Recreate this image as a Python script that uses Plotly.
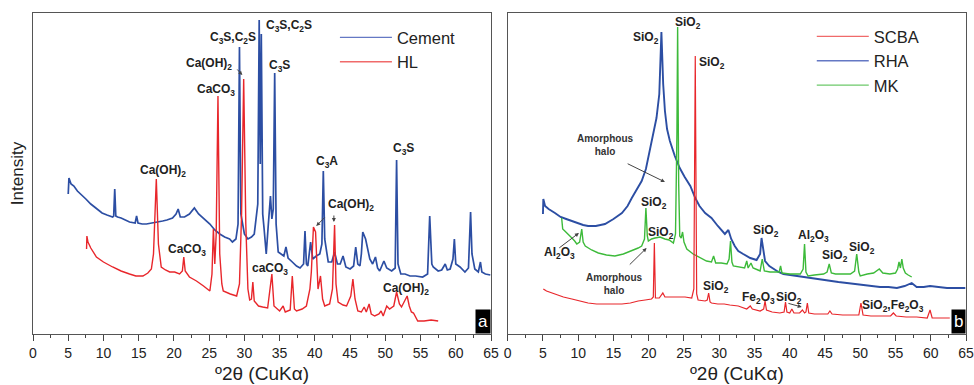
import plotly.graph_objects as go

# ---------------- Panel a data (2theta, intensity a.u.) ----------------
cement_x = [5.0, 5.1, 5.4, 5.8, 6.3, 6.8, 7.5, 8.2, 9.0, 9.8, 10.5, 11.3, 11.45, 11.6, 11.75, 12.0, 12.5, 13.0, 13.7,
            14.5, 14.7, 14.9, 15.5, 16.1, 17.0, 17.5, 18.4, 19.0, 19.8, 20.3, 20.6, 20.9, 21.5, 22.2, 22.9, 23.5, 24.2,
            25.1, 25.8, 26.5, 27.2, 27.9, 28.3, 28.8, 29.1, 29.3, 29.5, 29.7, 30.0, 30.5, 31.0, 31.4, 31.7, 31.9, 32.1,
            32.25, 32.4, 32.6, 32.8, 33.1, 33.4, 33.7, 33.9, 34.1, 34.3, 34.5, 34.8, 35.2, 35.6, 35.9, 36.2, 36.8,
            37.4, 37.9, 38.4, 38.6, 38.8, 39.0, 39.4, 39.7, 40.2, 40.7, 41.0, 41.2, 41.4, 41.9, 42.4, 42.8, 43.2,
            43.6, 44.0, 44.4, 45.0, 45.5, 45.8, 46.1, 46.4, 46.6, 46.8, 47.2, 47.5, 47.8, 48.2, 48.6, 48.9, 49.2,
            49.8, 50.2, 50.9, 51.4, 51.6, 51.8, 52.2, 52.8, 53.5, 54.3, 55.3, 56.0, 56.3, 56.6, 56.8, 57.5, 58.0,
            58.5, 58.8, 59.2, 59.6, 59.8, 60.0, 60.6, 61.3, 61.8, 62.1, 62.3, 62.7, 63.2, 63.5, 63.7, 64.2, 64.9]
cement_y = [140, 156, 150, 148, 143, 140, 135, 130, 125, 121, 119, 117, 118, 145, 118, 117, 116, 114, 112,
            111, 118, 111, 110, 110, 111, 112, 113, 114, 116, 120, 125, 117, 117, 120, 126, 120, 116,
            110, 104, 100, 97, 95, 92, 95, 110, 287, 120, 110, 100, 95, 97, 100, 115, 130, 314,
            170, 300, 120, 105, 80, 110, 138, 115, 125, 261, 110, 82, 80, 78, 87, 76, 72,
            68, 66, 70, 103, 70, 68, 92, 75, 78, 80, 90, 163, 95, 72, 72, 82, 70,
            70, 78, 67, 65, 68, 87, 70, 68, 80, 102, 95, 85, 75, 70, 77, 66, 63,
            73, 66, 63, 66, 174, 70, 60, 60, 58, 58, 57, 60, 118, 70, 67, 63, 64,
            70, 64, 65, 75, 95, 70, 67, 62, 66, 122, 80, 65, 62, 72, 62, 60, 59]

hl_x = [7.6, 7.65, 7.8, 8.2, 9.0, 10.0, 11.3, 12.5, 13.7, 14.6, 15.6, 16.3, 16.8, 17.1, 17.5, 17.8, 18.2, 18.8,
        19.4, 20.1, 20.8, 21.2, 21.4, 21.6, 22.2, 23.2, 24.2, 25.1, 25.4, 25.6, 25.8, 26.0, 26.25, 26.5, 26.8,
        27.0, 28.0, 28.9, 29.3, 29.6, 29.9, 30.2, 30.5, 30.75, 31.0, 31.2, 31.4, 32.0, 32.6, 33.3, 33.9, 34.2,
        35.0, 35.5, 35.8, 36.5, 36.8, 37.1, 37.4, 38.2, 38.8, 39.3, 39.5, 39.8, 40.1, 40.3, 40.45, 40.8, 41.1,
        41.4, 42.1, 42.5, 42.8, 43.0, 43.3, 44.0, 44.5, 45.1, 45.4, 45.7, 46.1, 46.6, 47.0, 47.3, 47.7, 48.0,
        48.5, 49.1, 49.4, 49.7, 50.2, 50.6, 51.2, 51.6, 52.0, 52.3, 52.8, 53.1, 53.4, 53.7, 54.0, 54.3, 54.6,
        55.5, 56.5, 57.5]
hl_y = [85, 98, 92, 86, 77, 72, 67, 63, 60, 58, 58, 61, 65, 80, 155, 90, 67, 64,
        62, 62, 60, 63, 77, 63, 57, 53, 48, 43, 60, 105, 70, 100, 238, 80, 50,
        43, 40, 38, 50, 120, 255, 110, 45, 34, 35, 52, 33, 28, 27, 26, 60, 28,
        23, 28, 22, 24, 58, 25, 23, 25, 28, 45, 62, 107, 102, 60, 45, 58, 35,
        28, 30, 45, 109, 50, 32, 29, 28, 38, 55, 35, 23, 22, 27, 22, 30, 20,
        18, 20, 23, 18, 28, 25, 28, 42, 30, 27, 33, 38, 28, 22, 21, 17, 13,
        13, 14, 13]

# ---------------- Panel b data ----------------
scba_x = [5.05, 5.5, 6.7, 7.9, 9.1, 10.2, 11.4, 12.6, 13.8, 15.0, 16.2, 17.4, 18.5, 19.5, 20.4, 20.65, 20.8, 20.95,
          21.5, 22.0, 22.3, 22.8, 24.0, 25.15, 26.1, 26.4, 26.6, 26.8, 27.0, 28.0, 28.3, 28.5, 28.7, 28.9, 29.8,
          30.7, 31.5, 32.7, 33.9, 34.4, 34.7, 35.3, 35.8, 36.3, 36.5, 36.7, 37.5, 38.6, 39.2, 39.4, 39.6, 40.0,
          40.3, 40.6, 41.4, 41.8, 42.1, 42.3, 42.5, 42.7, 43.5, 44.8, 45.4, 45.7, 46.0, 47.5, 48.8, 49.8, 50.1,
          50.4, 51.5, 53.0, 54.3, 54.7, 55.1, 56.5, 58.0, 59.5, 59.9, 60.2, 61.5, 62.7]
scba_y = [45, 43, 40, 37, 35, 33, 31, 30, 30, 30, 30, 31, 33, 34, 35, 37, 91, 36,
          36, 41, 37, 37, 37, 37, 36, 45, 278, 40, 34, 33, 34, 41, 32, 31, 30,
          30, 29, 28, 25, 28, 25, 24, 23, 25, 33, 24, 22, 21, 22, 32, 22, 21,
          25, 21, 21, 24, 21, 22, 31, 21, 20, 20, 20, 23, 20, 19, 19, 19, 31,
          19, 18, 18, 18, 21, 18, 17, 17, 16, 24, 16, 16, 16]

rha_x = [5.0, 5.05, 5.3, 5.8, 6.7, 7.5, 8.3, 9.1, 10.0, 10.7, 11.4, 12.5, 13.8, 15.0, 16.2, 17.0, 17.6, 18.3, 19.0,
         19.6, 20.2, 20.8, 21.1, 21.5, 21.8, 22.05, 22.3, 22.6, 23.0, 23.7, 24.4, 25.1, 25.9, 26.6, 27.2, 28.0,
         28.9, 29.8, 30.8, 31.3, 31.7, 32.2, 32.7, 33.4, 34.4, 35.3, 35.8, 36.0, 36.3, 36.5, 37.1, 37.7, 38.4,
         39.1, 40.0, 41.0, 42.1, 43.3, 44.5, 45.7, 46.9, 48.1, 49.2, 50.4, 51.6, 52.8, 54.0, 55.2, 56.3, 57.3,
         58.0, 59.0, 59.9, 61.0, 62.3, 63.5, 64.9]
rha_y = [120, 135, 128, 125, 121, 117, 115, 113, 110, 109, 108, 108, 110, 115, 121, 128, 136, 145, 153,
         165, 185, 205, 216, 240, 302, 250, 223, 205, 193, 178, 166, 157, 148, 136, 128, 121,
         116, 108, 100, 104, 95, 88, 83, 80, 76, 74, 80, 96, 80, 73, 68, 65, 62,
         60, 59, 58, 57, 56, 54, 53, 52, 51, 50, 49, 48, 47, 47, 46, 48, 51,
         47, 47, 48, 47, 46, 46, 46]

mk_x = [7.65, 7.8, 8.1, 8.6, 9.1, 9.5, 9.8, 10.2, 10.5, 10.7, 11.0, 11.9, 12.85, 14.0, 15.2, 16.4, 17.6, 18.5,
        19.0, 19.4, 19.6, 19.8, 19.95, 20.4, 20.9, 21.6, 22.3, 22.9, 23.5, 23.8, 24.0, 24.1, 24.25, 24.4, 24.6,
        24.8, 25.0, 25.4, 26.3, 27.3, 28.2, 28.9, 29.2, 29.5, 30.3, 31.1, 31.4, 31.6, 31.8, 32.0, 32.9, 33.6,
        33.9, 34.1, 34.5, 34.8, 35.5, 35.8, 36.1, 36.4, 37.2, 38.0, 38.5, 38.7, 38.9, 40.0, 41.0, 41.5, 41.9,
        42.1, 42.3, 42.6, 43.5, 44.8, 45.3, 45.6, 45.9, 46.5, 47.5, 48.6, 49.2, 49.5, 49.8, 50.0, 51.0, 51.9,
        52.7, 53.2, 54.2, 55.0, 55.3, 55.5, 55.7, 55.9, 56.1, 56.4, 56.8, 57.3]
mk_y = [116, 105, 103, 99, 96, 93, 90, 92, 105, 92, 88, 84, 81, 79, 78, 80, 83, 86,
        88, 95, 126, 98, 93, 95, 96, 97, 95, 94, 91, 100, 200, 307, 150, 98, 96,
        102, 92, 85, 80, 76, 73, 72, 78, 71, 71, 70, 75, 93, 72, 68, 67, 66,
        73, 66, 71, 66, 64, 63, 75, 63, 62, 62, 62, 68, 61, 60, 60, 60, 65,
        90, 62, 58, 59, 60, 62, 70, 61, 60, 60, 60, 63, 80, 62, 58, 60, 61,
        65, 61, 60, 61, 65, 72, 66, 75, 66, 61, 59, 57]

# ---------------- Labels ----------------
labels_a = [
    ("C<sub>3</sub>S,C<sub>2</sub>S", 28.4, 296),
    ("C<sub>3</sub>S,C<sub>2</sub>S", 36.4, 308),
    ("Ca(OH)<sub>2</sub>", 25.0, 270),
    ("CaCO<sub>3</sub>", 26.0, 244),
    ("C<sub>3</sub>S", 35.0, 268),
    ("Ca(OH)<sub>2</sub>", 18.4, 163),
    ("C<sub>3</sub>A", 41.7, 172),
    ("C<sub>3</sub>S", 52.6, 185),
    ("CaCO<sub>3</sub>", 21.9, 84),
    ("Ca(OH)<sub>2</sub>", 45.1, 129),
    ("caCO<sub>3</sub>", 33.7, 65),
    ("Ca(OH)<sub>2</sub>", 53.0, 45),
]
arrows_a = [  # (head x, head y, tail x, tail y)
    (29.7, 259, 28.8, 266),
    (40.2, 108, 41.6, 118),
    (42.7, 112, 42.7, 120),
]
labels_b = [
    ("SiO<sub>2</sub>", 25.5, 311),
    ("SiO<sub>2</sub>", 19.6, 296),
    ("SiO<sub>2</sub>", 29.0, 271),
    ("SiO<sub>2</sub>", 20.7, 131),
    ("SiO<sub>2</sub>", 21.7, 101),
    ("Al<sub>2</sub>O<sub>3</sub>", 7.4, 81),
    ("SiO<sub>2</sub>", 36.7, 103),
    ("Al<sub>2</sub>O<sub>3</sub>", 43.3, 98),
    ("SiO<sub>2</sub>", 46.4, 78),
    ("SiO<sub>2</sub>", 50.2, 86),
    ("SiO<sub>2</sub>", 29.6, 47),
    ("Fe<sub>2</sub>O<sub>3</sub>", 35.6, 36),
    ("SiO<sub>2</sub>", 39.9, 36),
    ("SiO<sub>2</sub>,Fe<sub>2</sub>O<sub>3</sub>", 54.7, 28),
]
halo_b = [("Amorphous<br>halo", 13.9, 189), ("Amorphous<br>halo", 15.1, 50)]
arrows_b = [
    (22.3, 152, 16.8, 171),
    (10.1, 101, 7.1, 85),
    (19.7, 86, 17.1, 68),
    (41.7, 27, 39.6, 31),
]

BLUE = "#2c4ea3"
RED = "#e8262b"
GREEN = "#3dba3a"
# legend swatch colours (lighter, as in the reference legend)
LBLUE = "#6478c4"
LRED = "#f06a6a"
LGREEN = "#6cc96a"

fig = go.Figure()
fig.add_trace(go.Scatter(x=cement_x, y=cement_y, mode="lines", name="Cement", showlegend=False,
                         line=dict(color=BLUE, width=1.7), xaxis="x", yaxis="y"))
fig.add_trace(go.Scatter(x=hl_x, y=hl_y, mode="lines", name="HL", showlegend=False,
                         line=dict(color=RED, width=1.4), xaxis="x", yaxis="y"))
fig.add_trace(go.Scatter(x=rha_x, y=rha_y, mode="lines", name="RHA", showlegend=False,
                         line=dict(color=BLUE, width=1.9), xaxis="x2", yaxis="y2"))
fig.add_trace(go.Scatter(x=mk_x, y=mk_y, mode="lines", name="MK", showlegend=False,
                         line=dict(color=GREEN, width=1.4), xaxis="x2", yaxis="y2"))
fig.add_trace(go.Scatter(x=scba_x, y=scba_y, mode="lines", name="SCBA", showlegend=False,
                         line=dict(color=RED, width=1.2), xaxis="x2", yaxis="y2"))
for nm, col in [("Cement", LBLUE), ("HL", LRED)]:
    fig.add_trace(go.Scatter(x=[None], y=[None], mode="lines", name=nm,
                             line=dict(color=col, width=1.3), legend="legend", xaxis="x", yaxis="y"))
for nm, col in [("SCBA", LRED), ("RHA", LBLUE), ("MK", LGREEN)]:
    fig.add_trace(go.Scatter(x=[None], y=[None], mode="lines", name=nm,
                             line=dict(color=col, width=1.3), legend="legend2", xaxis="x2", yaxis="y2"))

ann = []
lab_font = dict(family="Liberation Sans, Arial", size=12, color="#222")
for t, x, y in labels_a:
    ann.append(dict(text="<b>" + t + "</b>", x=x, y=y, xref="x", yref="y", showarrow=False, font=lab_font))
for t, x, y in labels_b:
    ann.append(dict(text="<b>" + t + "</b>", x=x, y=y, xref="x2", yref="y2", showarrow=False, font=lab_font))
for t, x, y in halo_b:
    ann.append(dict(text="<b>" + t + "</b>", x=x, y=y, xref="x2", yref="y2", showarrow=False,
                    font=dict(family="Liberation Sans, Arial", size=10, color="#333")))
for hx, hy, tx, ty in arrows_a:
    ann.append(dict(text="", x=hx, y=hy, ax=tx, ay=ty, xref="x", yref="y", axref="x", ayref="y",
                    showarrow=True, arrowhead=2, arrowsize=0.8, arrowwidth=1, arrowcolor="#444"))
for hx, hy, tx, ty in arrows_b:
    ann.append(dict(text="", x=hx, y=hy, ax=tx, ay=ty, xref="x2", yref="y2", axref="x2", ayref="y2",
                    showarrow=True, arrowhead=2, arrowsize=0.8, arrowwidth=1, arrowcolor="#444"))
for t, xr, yr in [("a", "x domain", "y domain"), ("b", "x2 domain", "y2 domain")]:
    ann.append(dict(text=t, x=1, y=0, xref=xr, yref=yr, xanchor="right", yanchor="bottom",
                    showarrow=False, bgcolor="black", borderpad=2,
                    font=dict(family="Liberation Sans, Arial", size=17, color="white")))

axis_common = dict(range=[0, 65], dtick=5, tick0=0, ticks="outside", ticklen=6, tickwidth=1,
                   tickcolor="#444", showline=True, linecolor="#555", linewidth=1, mirror=True,
                   showgrid=False, zeroline=False,
                   tickfont=dict(family="Liberation Sans, Arial", size=14, color="#222"),
                   minor=dict(dtick=2.5, ticks="outside", ticklen=3, tickcolor="#444"),
                   title=dict(text="º2θ (CuKα)", font=dict(family="Liberation Sans, Arial", size=19, color="#222"),
                              standoff=6))
yaxis_common = dict(range=[0, 321], showticklabels=False, ticks="", showline=True, linecolor="#555",
                    linewidth=1, mirror=True, showgrid=False, zeroline=False)

leg_font = dict(family="Liberation Sans, Arial", size=16.5, color="#222")
fig.update_layout(
    width=974, height=385, margin=dict(l=33, r=8, t=13, b=51, autoexpand=False),
    paper_bgcolor="white", plot_bgcolor="white",
    xaxis=dict(domain=[0, 0.4909], anchor="y", **axis_common),
    xaxis2=dict(domain=[0.5088, 1], anchor="y2", **axis_common),
    yaxis=dict(domain=[0, 1], anchor="x",
               title=dict(text="Intensity", font=dict(family="Liberation Sans, Arial", size=17, color="#222"),
                          standoff=4), **yaxis_common),
    yaxis2=dict(domain=[0, 1], anchor="x2", **yaxis_common),
    legend=dict(x=0.3236, y=0.978, xanchor="left", yanchor="top", bgcolor="rgba(0,0,0,0)",
                font=leg_font, tracegroupgap=0, itemwidth=52),
    legend2=dict(x=0.8347, y=0.981, xanchor="left", yanchor="top", bgcolor="rgba(0,0,0,0)",
                 font=leg_font, tracegroupgap=0, itemwidth=52),
    annotations=ann,
)

fig.write_html("out.html")
